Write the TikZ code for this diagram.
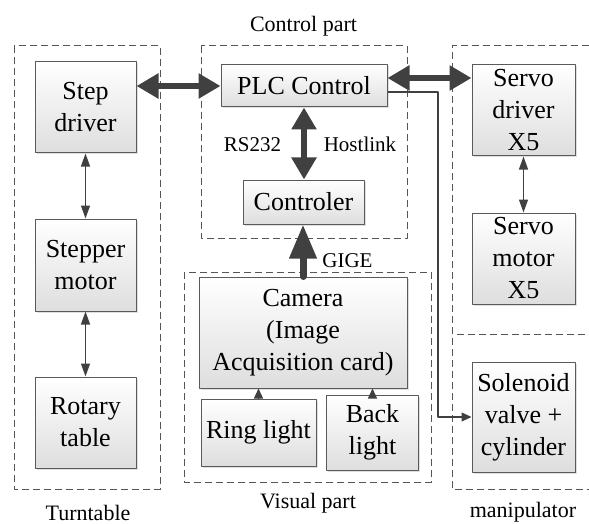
\documentclass[tikz,border=0pt]{standalone}
\usepackage{fontspec}
\setmainfont{Liberation Serif}
\newfontfamily\timesfont{Liberation Serif}
\usetikzlibrary{arrows.meta,shadows}
\definecolor{arrowgray}{HTML}{404040}
\definecolor{edgegray}{HTML}{5A5A5A}
\definecolor{dashgray}{HTML}{555555}
\newcommand{\blockfont}{\timesfont\fontsize{26}{32}\selectfont}
\newcommand{\tagfont}{\timesfont\fontsize{22}{26}\selectfont}
\newcommand{\linkfont}{\timesfont\fontsize{21}{25}\selectfont}
\begin{document}
\begin{tikzpicture}[x=1pt, y=-1pt, line join=round,
  block/.style={draw=edgegray, line width=1pt, top color=white, bottom color=black!13,
    drop shadow={shadow xshift=1.5pt, shadow yshift=-1.5pt, opacity=0.25},
    align=center, inner sep=0pt, font=\blockfont},
  group/.style={draw=dashgray, line width=1pt, dash pattern=on 7pt off 4pt},
  label/.style={anchor=base, inner sep=1pt},
  bigboth/.style={draw=arrowgray, line width=6pt, {Triangle[length=22pt,width=24pt]}-{Triangle[length=22pt,width=24pt]}},
  bigone/.style={draw=arrowgray, line width=7pt, line cap=round, -{Triangle[length=34pt,width=26pt]}},
  smallboth/.style={draw=arrowgray, line width=1.2pt, {Triangle[length=13pt,width=9pt]}-{Triangle[length=13pt,width=9pt]}},
  smallone/.style={draw=arrowgray, line width=1.2pt, -{Triangle[length=10pt,width=9pt]}}]
\useasboundingbox (0,0) rectangle (589,524);
% dashed groups
\draw[group] (14,46) rectangle (160,489);
\draw[group] (201,46) rectangle (407,238);
\draw[group] (184,272) rectangle (431,482);
\draw[group] (589,46) -- (452,46) -- (452,489) -- (589,489);
\draw[group] (457,334) -- (589,334);
% turntable
\node[block, minimum width=101pt, minimum height=91pt] (stepdrv) at (85.5,107.5) {Step\\driver};
\node[block, minimum width=101pt, minimum height=92pt] (stepmot) at (85.5,265) {Stepper\\motor};
\node[block, minimum width=101pt, minimum height=91pt] (rotary) at (85.5,422.5) {Rotary\\table};
% control part
\node[block, minimum width=166pt, minimum height=42pt] (plc) at (304,86) {PLC Control};
\node[block, minimum width=121pt, minimum height=44pt] (ctrl) at (303.5,202) {Controler};
% visual part
\node[block, minimum width=208pt, minimum height=111pt] (cam) at (303,332.5) {Camera\\(Image\\Acquisition card)};
\node[block, minimum width=115pt, minimum height=67pt] (ring) at (258.5,432.5) {Ring light};
\node[block, minimum width=92pt, minimum height=75pt] (back) at (372.5,432.5) {Back\\light};
% manipulator
\node[block, minimum width=103pt, minimum height=91pt] (servodrv) at (523.5,110.5) {Servo\\driver\\X5};
\node[block, minimum width=103pt, minimum height=91pt] (servomot) at (523.5,258.5) {Servo\\motor\\X5};
\node[block, minimum width=103pt, minimum height=110pt] (valve) at (523.5,417) {Solenoid\\valve +\\cylinder};
% links
\draw[bigboth] (plc.west -| stepdrv.east) -- (plc.west);
\draw[bigboth] ([yshift=8pt]plc.east) -- ([yshift=8pt]plc.east -| servodrv.west);
\draw[bigboth] (plc.south) -- (plc.south |- ctrl.north);
\draw[bigone] (cam.north) -- (cam.north |- ctrl.south);
\draw[smallboth] (stepdrv.south) -- (stepmot.north);
\draw[smallboth] (stepmot.south) -- (rotary.north);
\draw[smallboth] (servodrv.south) -- (servomot.north);
\draw[smallone] (ring.north) -- (ring.north |- cam.south);
\draw[smallone] (back.north) -- (back.north |- cam.south);
\coordinate (bend) at (438,92);
\draw[smallone] ([yshift=-6pt]plc.east) -- (bend) |- (valve.west);
% texts
\node[label, font=\tagfont] (ctrllbl) at (303.5,32) {Control part};
\node[label, font=\tagfont] (turnlbl) at (88,520) {Turntable};
\node[label, font=\tagfont] (vislbl) at (308,508) {Visual part};
\node[label, font=\tagfont] (manlbl) at (523,517) {manipulator};
\node[label, font=\linkfont] (rslbl) at (252.5,152) {RS232};
\node[label, font=\linkfont] (hostlbl) at (360,152) {Hostlink};
\node[label, font=\linkfont] (gigelbl) at (347.5,267) {GIGE};
\end{tikzpicture}
\end{document}
